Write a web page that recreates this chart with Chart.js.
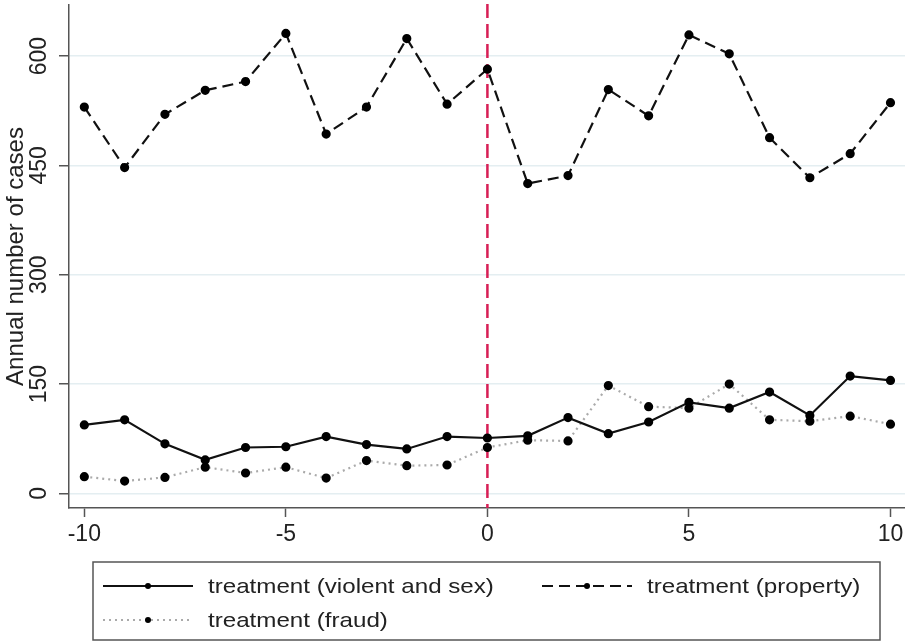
<!DOCTYPE html>
<html>
<head>
<meta charset="utf-8">
<script src="https://cdn.jsdelivr.net/npm/chart.js@4.4.1/dist/chart.umd.min.js"></script>
<style>
  html, body { margin: 0; padding: 0; background: #fff; }
  #wrap { width: 905px; height: 643px; }
</style>
</head>
<body>
<div id="wrap"><canvas id="chart" width="905" height="643"></canvas></div>
<script>
// event time relative to treatment
const years = [-10, -9, -8, -7, -6, -5, -4, -3, -2, -1, 0, 1, 2, 3, 4, 5, 6, 7, 8, 9, 10];

// annual number of cases
const violent  = [94, 101, 68, 46, 63, 64, 78, 67, 61, 78, 76, 79, 104, 82, 98, 125, 117, 139, 107, 161, 155];
const property = [530, 447, 520, 553, 565, 631, 493, 530, 624, 534, 582, 425, 436, 554, 518, 629, 603, 488, 433, 466, 536];
const fraud    = [23, 17, 22, 36, 28, 36, 21, 45, 38, 39, 63, 73, 72, 148, 119, 117, 150, 101, 99, 106, 95];

const xTicks = [-10, -5, 0, 5, 10];
const yTicks = [0, 150, 300, 450, 600];
const treatYear = 0;

const FONT = "'Liberation Sans', Arial, Helvetica, sans-serif";
const AXIS = '#555';

function pts(vals) {
  return years.map((x, i) => ({ x: x, y: vals[i] }));
}

// red dashed line at treatment year
const treatLine = {
  id: 'treatLine',
  beforeDatasetsDraw(chart) {
    const ctx = chart.ctx;
    const x = chart.scales.x.getPixelForValue(treatYear);
    const area = chart.chartArea;
    ctx.save();
    ctx.strokeStyle = '#d81e55';
    ctx.lineWidth = 2.5;
    ctx.setLineDash([14, 6]);
    ctx.beginPath();
    ctx.moveTo(x, area.top - 1);
    ctx.lineTo(x, area.bottom);
    ctx.stroke();
    ctx.restore();
  }
};

// boxed two-column legend like the Stata one
const boxLegend = {
  id: 'boxLegend',
  afterDraw(chart) {
    const ctx = chart.ctx;
    const ds = chart.data.datasets;
    const items = [
      { d: ds[0], sx: 103, tx: 208, y: 586 },
      { d: ds[1], sx: 542, tx: 647, y: 586 },
      { d: ds[2], sx: 103, tx: 208, y: 620 }
    ];
    ctx.save();
    ctx.strokeStyle = AXIS;
    ctx.lineWidth = 1.5;
    ctx.strokeRect(93, 562, 787, 78);
    items.forEach(it => {
      ctx.strokeStyle = it.d.borderColor;
      ctx.lineWidth = it.d.borderWidth;
      ctx.setLineDash(it.d.borderDash || []);
      ctx.beginPath();
      ctx.moveTo(it.sx, it.y);
      ctx.lineTo(it.sx + 90, it.y);
      ctx.stroke();
      ctx.setLineDash([]);
      ctx.fillStyle = '#000';
      ctx.beginPath();
      ctx.arc(it.sx + 45, it.y, 3, 0, Math.PI * 2);
      ctx.fill();
      ctx.save();
      ctx.translate(it.tx, it.y);
      ctx.scale(1.15, 1);
      ctx.fillStyle = '#222';
      ctx.font = '21px ' + FONT;
      ctx.textBaseline = 'middle';
      ctx.fillText(it.d.label, 0, 1);
      ctx.restore();
    });
    ctx.restore();
  }
};

new Chart(document.getElementById('chart'), {
  type: 'line',
  data: {
    datasets: [
      {
        label: 'treatment (violent and sex)',
        data: pts(violent),
        borderColor: '#111',
        borderWidth: 2.2,
        pointRadius: 3.5,
        pointBackgroundColor: '#000',
        pointBorderColor: '#000',
        tension: 0
      },
      {
        label: 'treatment (property)',
        data: pts(property),
        borderColor: '#111',
        borderWidth: 2.2,
        borderDash: [11, 6],
        pointRadius: 3.5,
        pointBackgroundColor: '#000',
        pointBorderColor: '#000',
        tension: 0
      },
      {
        label: 'treatment (fraud)',
        data: pts(fraud),
        borderColor: '#aaa',
        borderWidth: 2.2,
        borderDash: [2, 4],
        pointRadius: 3.5,
        pointBackgroundColor: '#000',
        pointBorderColor: '#000',
        tension: 0
      }
    ]
  },
  options: {
    responsive: false,
    animation: false,
    layout: { autoPadding: false, padding: { left: 0, right: 0, top: 5, bottom: 100 } },
    plugins: {
      legend: { display: false },
      tooltip: { enabled: false }
    },
    scales: {
      x: {
        type: 'linear',
        min: -10.38,
        max: 10.36,
        afterBuildTicks: s => { s.ticks = xTicks.map(v => ({ value: v })); },
        afterFit: s => { s.height = 35; s.paddingLeft = 0; s.paddingRight = 0; },
        ticks: {
          color: '#222',
          font: { family: FONT, size: 23 },
          padding: 4,
          maxRotation: 0
        },
        grid: {
          drawOnChartArea: false,
          drawTicks: true,
          tickLength: 9,
          tickColor: AXIS,
          tickWidth: 1.5
        },
        border: { display: true, color: AXIS, width: 1.5 }
      },
      y: {
        min: -20,
        max: 670,
        afterBuildTicks: s => { s.ticks = yTicks.map(v => ({ value: v })); },
        afterFit: s => { s.width = 69; s.paddingTop = 0; s.paddingBottom = 0; },
        title: {
          display: true,
          text: 'Annual number of cases',
          color: '#222',
          font: { family: FONT, size: 24 },
          padding: { top: 2, bottom: 0 }
        },
        ticks: {
          color: '#222',
          font: { family: FONT, size: 23 },
          minRotation: 90,
          maxRotation: 90,
          crossAlign: 'center',
          padding: 0
        },
        grid: {
          color: '#e4eef1',
          lineWidth: 1.5,
          drawTicks: true,
          tickLength: 10,
          tickColor: AXIS,
          tickWidth: 1.5
        },
        border: { display: true, color: AXIS, width: 1.5 }
      }
    }
  },
  plugins: [treatLine, boxLegend]
});
</script>
</body>
</html>
